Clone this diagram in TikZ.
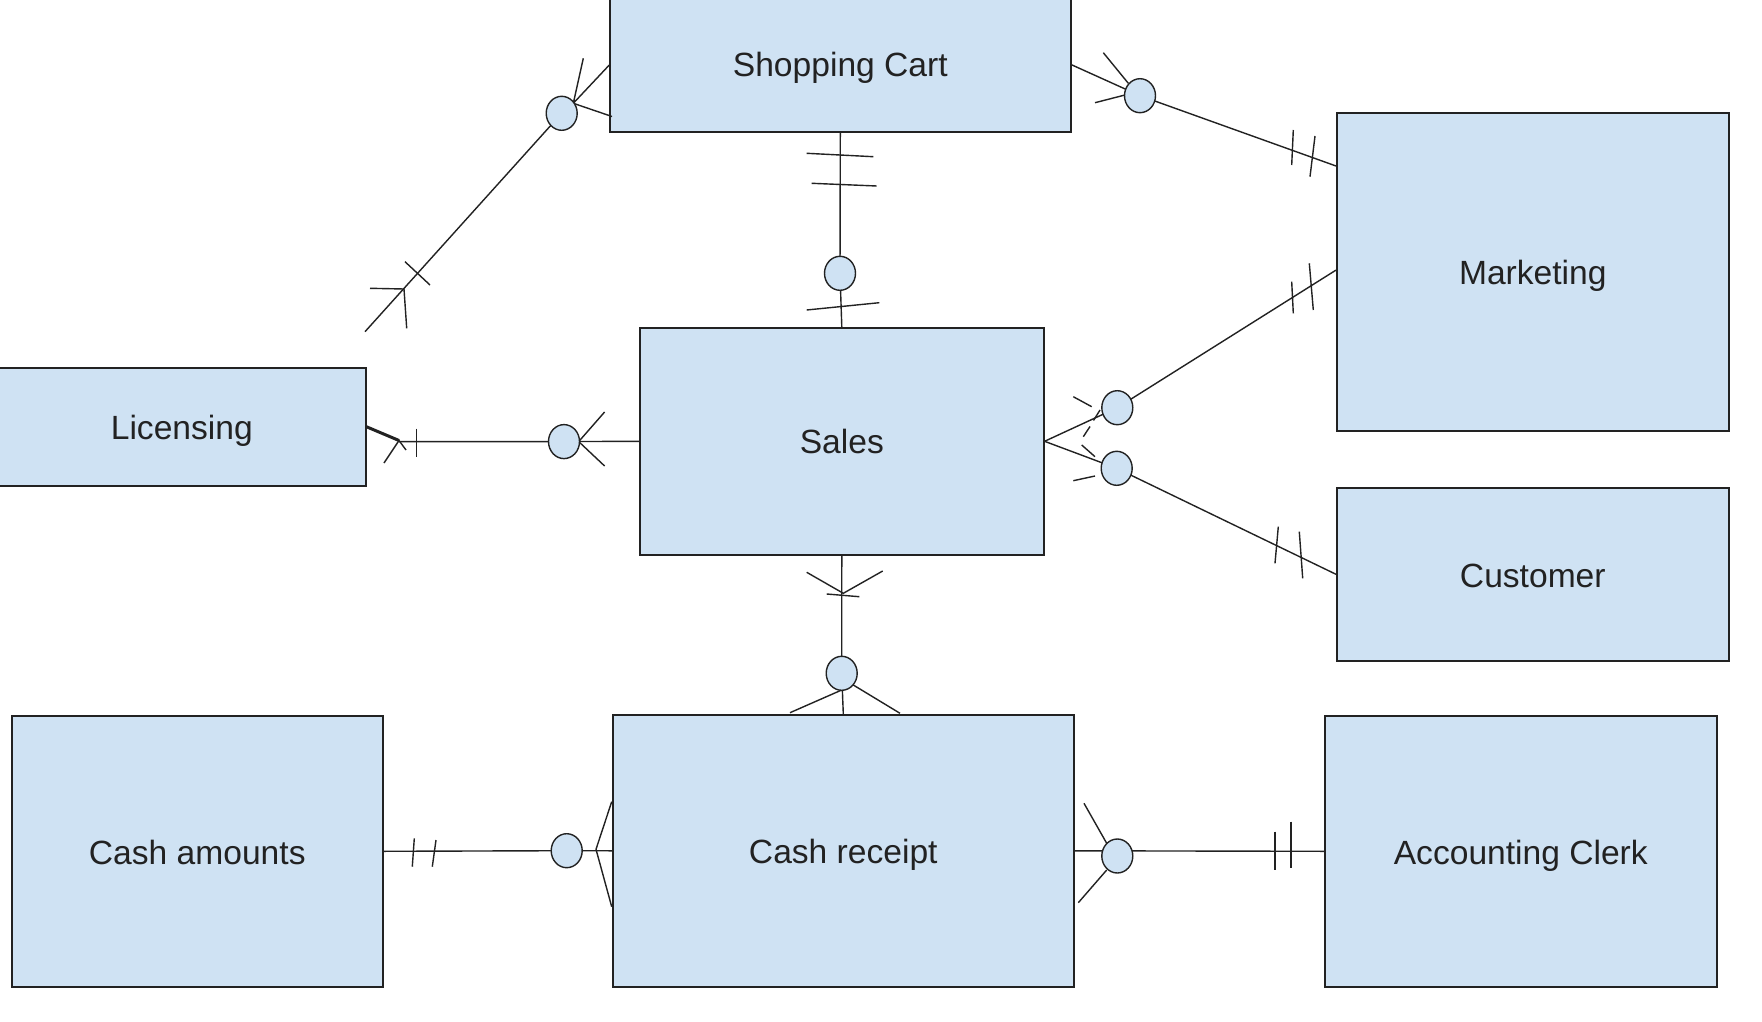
\documentclass[tikz,border=0pt]{standalone}
\usepackage{fontspec}
\setmainfont{Liberation Sans}
\usetikzlibrary{shapes.geometric}
\definecolor{boxfill}{HTML}{CFE2F3}
\definecolor{ink}{HTML}{222222}
\begin{document}
\begin{tikzpicture}[x=1pt,y=-1pt,
  ent/.style={draw=ink,fill=boxfill,line width=1.6pt,inner sep=0pt,anchor=north west},
  txt/.style={inner sep=0pt,font=\fontsize{33.6}{40}\selectfont,text=ink},
  opt/.style={ellipse,draw=ink,fill=boxfill,line width=1.4pt,inner sep=0pt,minimum width=31pt,minimum height=34pt},
  lnk/.style={draw=ink,line width=1.4pt}]
\useasboundingbox[fill=white] (0,0) rectangle (1762,1022);
% entities
\node[ent,minimum width=461pt,minimum height=134pt] (sc) at (609,-3) {};
\node[ent,minimum width=392pt,minimum height=318pt] (mk) at (1336,112) {};
\node[ent,minimum width=368pt,minimum height=118pt] (lic) at (-3,367) {};
\node[ent,minimum width=404pt,minimum height=227pt] (sales) at (639,327) {};
\node[ent,minimum width=392pt,minimum height=173pt] (cust) at (1336,487) {};
\node[ent,minimum width=371pt,minimum height=271pt] (ca) at (11,715) {};
\node[ent,minimum width=461pt,minimum height=272pt] (cr) at (612,714) {};
\node[ent,minimum width=392pt,minimum height=271pt] (ac) at (1324,715) {};
\node[txt] (sc-t) at ([yshift=-3.5pt]sc.center) {Shopping Cart};
\node[txt] (mk-t) at ([yshift=-4.5pt]mk.center) {Marketing};
\node[txt] (lic-t) at ([yshift=-4.5pt]lic.center) {Licensing};
\node[txt] (sales-t) at (sales.center) {Sales};
\node[txt] (cust-t) at ([yshift=-1.5pt]cust.center) {Customer};
\node[txt] (ca-t) at ([yshift=-1.5pt]ca.center) {Cash amounts};
\node[txt] (cr-t) at ([yshift=-4.5pt]cr.center) {Cash receipt};
\node[txt] (ac-t) at ([yshift=-4.5pt]ac.center) {Accounting Clerk};
% circle centres
\coordinate (c1) at (561.7,113.3);
\coordinate (c2) at (1140,95.7);
\coordinate (c3) at (840,273.3);
\coordinate (c4) at (564,441.6);
\coordinate (c5u) at (1117.3,407.7);
\coordinate (c5l) at (1116.7,468.3);
\coordinate (c7) at (841.7,673.3);
\coordinate (c8) at (566.7,850.7);
\coordinate (c9) at (1117.3,856);
\coordinate (e1) at (365,331.7);
\coordinate (j1) at (404,289);
\coordinate (p1) at (573.3,103.3);
% Shopping Cart -- free end
\draw[lnk] (c1) -- (e1);
\draw[lnk] (p1) -- (609.3,65) (p1) -- (612,116.5) (p1) -- (583.3,58.3);
\draw[lnk] (405,261.7) -- (430,285);
\draw[lnk] (j1) -- (370,288.3) (j1) -- (406.7,328.3);
% Shopping Cart -- Marketing
\draw[lnk] (sc.east) -- (c2) -- ([yshift=-54pt]mk.north west);
\draw[lnk] (1103.3,52.7) -- (1128.3,83.3) (1095,102.7) -- (1125,95);
\draw[lnk] (1293.3,130) -- (1291.7,165) (1315,136) -- (1310,176.7);
% Shopping Cart -- Sales
\draw[lnk] (sc.south) -- (c3) -- (sales.north);
\draw[lnk] (806.7,153.3) -- (873.3,156.7) (811.7,183.3) -- (876.7,186) (806.7,310) -- (879.3,302.7);
% Licensing -- Sales
\draw[draw=ink,line width=3pt] (lic.east) -- (399,440.5);
\draw[lnk] (399,441.6) -- (c4) -- (sales.west);
\draw[lnk] (416.5,428.5) -- (416.5,456.5);
\draw[lnk] (384,463) -- (399,440.5) -- (406,450);
\draw[lnk] (604.6,412) -- (578.7,441.6) -- (604.6,466);
% Sales -- Marketing / Customer
\draw[lnk] (sales.east) -- (c5u) -- ([yshift=1.7pt]mk.west);
\draw[lnk] (sales.east) -- (c5l) -- (cust.west);
\draw[lnk] (1291.7,281.7) -- (1293.3,313.3) (1309.3,263.3) -- (1313.3,310);
\draw[lnk] (1073.3,396.7) -- (1091.7,406.7);
\draw[lnk] (1083.3,436.7) -- (1090,426.5) (1093.5,420.5) -- (1100,410);
\draw[lnk] (1278.3,526.7) -- (1275,563.3) (1299.3,531.7) -- (1302.7,578.3);
\draw[lnk] (1081.7,445) -- (1095,456.7) (1073.3,480.7) -- (1095,476);
% Sales -- Cash receipt
\draw[lnk] (sales.south) -- (c7) -- (cr.north);
\draw[lnk] (806.7,572.3) -- (843.3,593.3) -- (882.7,571);
\draw[lnk] (826.7,594) -- (859.3,596.7);
\draw[lnk] (841.7,690) -- (790,712.7) (853.3,685) -- (900,713.3);
% Cash amounts -- Cash receipt
\draw[lnk] (ca.east) -- (c8) -- (cr.west);
\draw[lnk] (414.3,838.3) -- (412.3,866.7) (436,840) -- (432.3,866.7);
\draw[lnk] (611.7,801.7) -- (596,849.3) -- (611.7,906.7);
% Cash receipt -- Accounting Clerk
\draw[lnk] (cr.east) -- (ac.west);
\draw[lnk] (1084,803.3) -- (1106.7,843.3) (1078.3,902.7) -- (1106.7,870);
\draw[lnk] (1275,831.7) -- (1275,870) (1291,821.7) -- (1291,868.3);
% optionality circles
\node[opt] (o1) at (c1) {};
\node[opt] (o2) at (c2) {};
\node[opt] (o3) at (c3) {};
\node[opt] (o4) at (c4) {};
\node[opt] (o5u) at (c5u) {};
\node[opt] (o5l) at (c5l) {};
\node[opt] (o7) at (c7) {};
\node[opt] (o8) at (c8) {};
\node[opt] (o9) at (c9) {};
\end{tikzpicture}
\end{document}
